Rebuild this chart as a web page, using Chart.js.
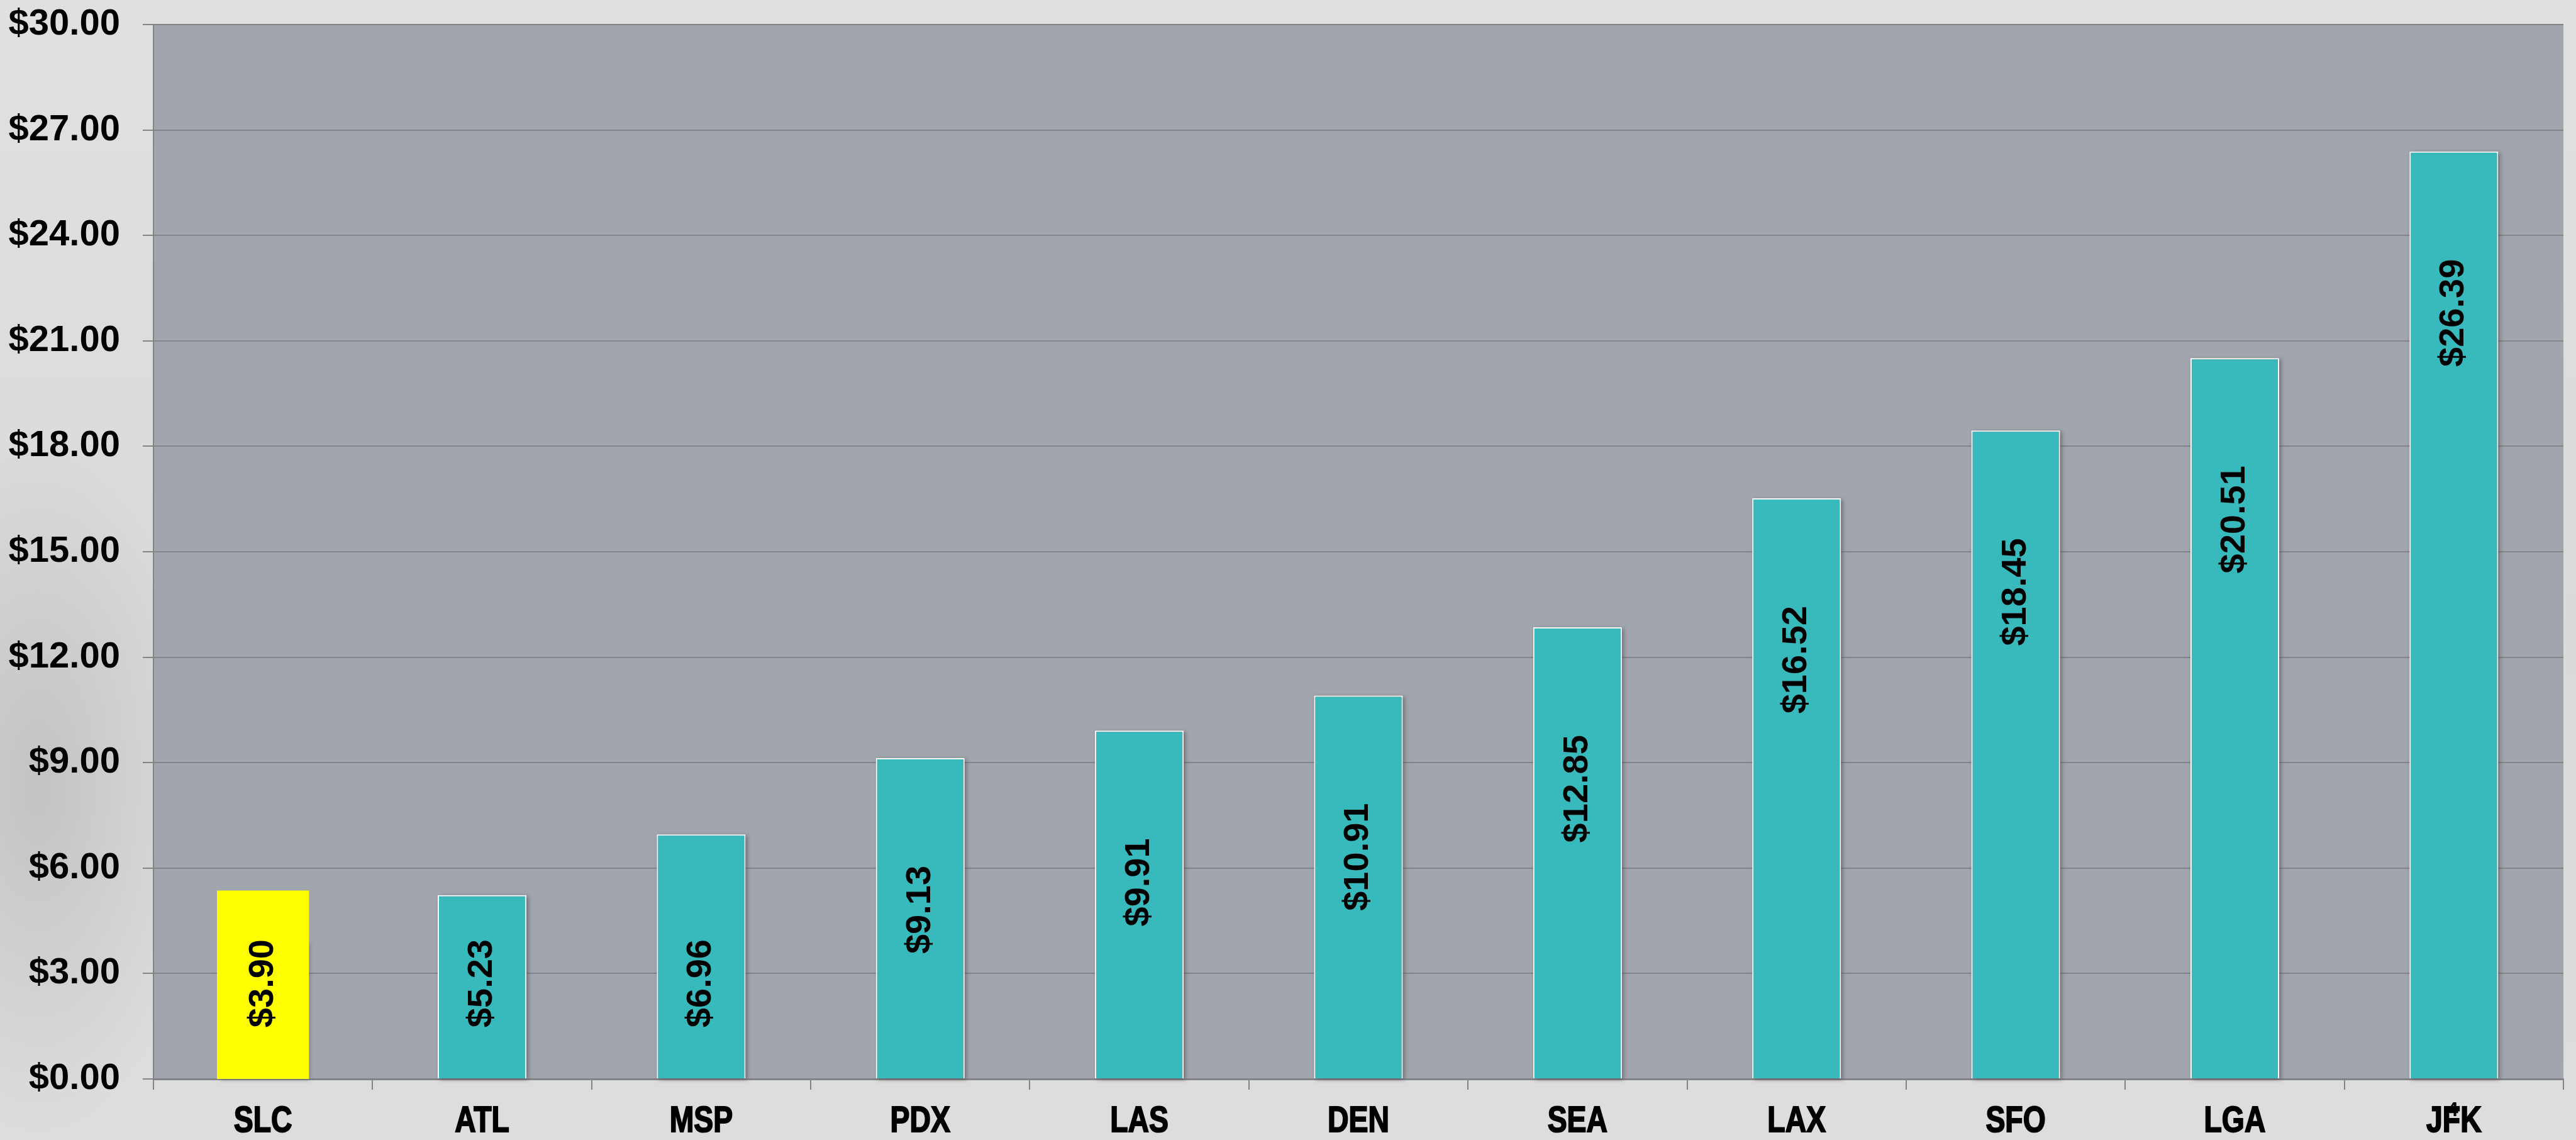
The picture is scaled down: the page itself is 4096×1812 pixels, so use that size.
<!DOCTYPE html>
<html>
<head>
<meta charset="utf-8">
<script src="https://cdn.jsdelivr.net/npm/chart.js@4.4.1/dist/chart.umd.min.js"></script>
<style>
  html, body { margin: 0; padding: 0; }
  body {
    width: 4096px; height: 1812px; overflow: hidden;
    background:
      radial-gradient(ellipse 260px 560px at 60px 1250px, rgba(150,150,150,0.35), rgba(150,150,150,0) 100%),
      linear-gradient(to bottom, #e0e0e0 0%, #dadada 55%, #dddddd 100%);
  }
  #wrap { position: relative; width: 4096px; height: 1812px; }
</style>
</head>
<body>
<div id="wrap"><canvas id="fareChart"></canvas></div>
<script>
// airports and fares
const airports = ['SLC', 'ATL', 'MSP', 'PDX', 'LAS', 'DEN', 'SEA', 'LAX', 'SFO', 'LGA', 'JFK'];
const fares = [3.90, 5.23, 6.96, 9.13, 9.91, 10.91, 12.85, 16.52, 18.45, 20.51, 26.39];
// yellow box drawn over SLC (from / to, in dollars)
const highlight = [[-0.08, 5.36], null, null, null, null, null, null, null, null, null, null];
const yMin = 0;
const yMax = 30;
const yStep = 3;

const TEAL = '#38b9bc';
const YELLOW = '#ffff00';
const GRID = '#828488';

// gray plot area
const plotBg = {
  id: 'plotBg',
  beforeDraw(chart) {
    const { ctx, chartArea: a } = chart;
    ctx.save();
    ctx.fillStyle = '#a1a5ad';
    ctx.fillRect(a.left, a.top, a.right - a.left, a.bottom - a.top);
    ctx.restore();
  }
};

// soft shadow behind the teal bars
const barShadow = {
  id: 'barShadow',
  beforeDatasetDraw(chart, args) {
    if (args.index !== 0) return;
    const ctx = chart.ctx;
    ctx.save();
    ctx.fillStyle = 'rgba(70,70,75,0.55)';
    ctx.filter = 'blur(3px)';
    args.meta.data.forEach(bar => {
      const { x, y, base, width } = bar.getProps(['x', 'y', 'base', 'width'], true);
      ctx.fillRect(x - width / 2 + 3, y + 2, width, base - y);
    });
    ctx.restore();
  }
};

// rotated $ labels inside the bars
const valueLabels = {
  id: 'valueLabels',
  afterDatasetsDraw(chart) {
    const ctx = chart.ctx;
    const meta = chart.getDatasetMeta(0);
    const bottom = chart.scales.y.getPixelForValue(0);
    ctx.save();
    ctx.font = 'bold 56px "Liberation Sans", Arial, sans-serif';
    ctx.fillStyle = '#000';
    ctx.textAlign = 'right';
    ctx.textBaseline = 'middle';
    meta.data.forEach((bar, i) => {
      const top = Math.min(bar.y + 171, bottom - 222);
      ctx.save();
      ctx.translate(bar.x, top);
      ctx.rotate(-Math.PI / 2);
      ctx.fillText('$' + fares[i].toFixed(2), 0, 0);
      ctx.restore();
    });
    ctx.restore();
  }
};

// narrow bold airport codes under the axis
const airportLabels = {
  id: 'airportLabels',
  afterDraw(chart) {
    const ctx = chart.ctx;
    const xs = chart.scales.x;
    const yc = xs.top + 68;
    ctx.save();
    ctx.font = 'bold 58px "Liberation Sans", Arial, sans-serif';
    ctx.fillStyle = '#000';
    ctx.strokeStyle = '#000';
    ctx.lineWidth = 2;
    ctx.textAlign = 'center';
    ctx.textBaseline = 'middle';
    airports.forEach((code, i) => {
      ctx.save();
      ctx.translate(xs.getPixelForValue(i), yc);
      ctx.scale(0.8, 1);
      ctx.fillText(code, 0, 0);
      ctx.strokeText(code, 0, 0);
      ctx.restore();
    });
    // stray slide number sitting on the JFK label
    ctx.font = 'bold 32px "Liberation Sans", Arial, sans-serif';
    ctx.fillText('4', xs.getPixelForValue(airports.length - 1) - 2, yc - 18);
    ctx.restore();
  }
};

const ctx = document.getElementById('fareChart');
new Chart(ctx, {
  type: 'bar',
  data: {
    labels: airports,
    datasets: [
      {
        label: 'Fare',
        data: fares,
        backgroundColor: airports.map((a, i) => i === 0 ? YELLOW : TEAL),
        borderColor: '#ffffff',
        borderWidth: 2,
        barPercentage: 0.405,
        categoryPercentage: 1,
        order: 1
      },
      {
        label: 'Highlight',
        data: highlight,
        backgroundColor: YELLOW,
        borderWidth: 0,
        barPercentage: 0.42,
        categoryPercentage: 1,
        grouped: false,
        order: 0
      }
    ]
  },
  options: {
    responsive: true,
    maintainAspectRatio: false,
    animation: false,
    layout: { padding: { top: 39, right: 20, left: 0, bottom: 0 } },
    plugins: {
      legend: { display: false },
      tooltip: { enabled: false }
    },
    scales: {
      x: {
        grid: {
          display: true,
          offset: true,
          drawOnChartArea: false,
          drawTicks: true,
          tickLength: 17,
          color: GRID,
          lineWidth: 2
        },
        border: { display: true, color: GRID, width: 3 },
        ticks: { display: false },
        afterFit(scale) { scale.height = 97; }
      },
      y: {
        min: yMin,
        max: yMax,
        grid: {
          color: GRID,
          lineWidth: 2,
          drawTicks: true,
          tickLength: 17
        },
        border: { display: true, color: GRID, width: 2 },
        ticks: {
          stepSize: yStep,
          padding: 36,
          color: '#000',
          font: { family: "'Liberation Sans', Arial, sans-serif", size: 58, weight: 'bold' },
          callback: v => '$' + Number(v).toFixed(2)
        },
        afterFit(scale) {
          scale.width = 244;
          scale.paddingTop = 0;
          scale.paddingBottom = 0;
        }
      }
    }
  },
  plugins: [plotBg, barShadow, valueLabels, airportLabels]
});
</script>
</body>
</html>
